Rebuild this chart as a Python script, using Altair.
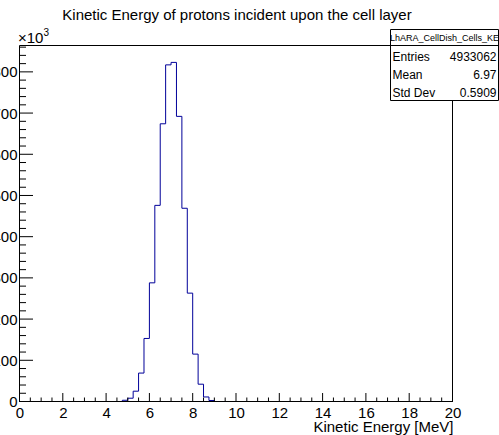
import altair as alt
import pandas as pd

# ---- data ----
bin_low = [4.75, 5.0, 5.25, 5.5, 5.75, 6.0, 6.25, 6.5, 6.75, 7.0,
           7.25, 7.5, 7.75, 8.0, 8.25, 8.5, 8.75]
counts = [3000, 8000, 25000, 69000, 153000, 288000, 476000, 674000, 817000, 823000,
          692000, 469000, 263000, 115000, 42000, 11000, 2500]
bin_width = 0.25
x_range = [0, 20]
y_max = 864000
x_label_values = [0, 2, 4, 6, 8, 10, 12, 14, 16, 18, 20]
y_label_values = [0, 100000, 200000, 300000, 400000, 500000, 600000, 700000, 800000]
stat_names = ["Entries", "Mean", "Std Dev"]
stat_values = ["4933062", "6.97", "0.5909"]
hist_name = "LhARA_CellDish_Cells_KE"
title_text = "Kinetic Energy of protons incident upon the cell layer"
x_title = "Kinetic Energy [MeV]"

W, H = 434, 357
FONT = "Liberation Sans"

# step outline (ROOT style histogram)
step_x = [x_range[0]] + bin_low + [bin_low[-1] + bin_width, x_range[1]]
step_y = [0] + counts + [0, 0]
step_df = pd.DataFrame({"x": step_x, "y": step_y})

xs = alt.Scale(domain=x_range, nice=False, zero=False, range=[0.5, W - 0.5])
ys = alt.Scale(domain=[0, y_max], nice=False, range=[H - 0.5, 0.5])

x_axis = alt.Axis(
    values=x_label_values, title=x_title, domain=False, ticks=False, tickSize=0,
    grid=False, labelFont=FONT, labelFontSize=15, labelColor="black",
    labelPadding=3, labelFlush=False,
    titleFont=FONT, titleFontSize=15, titleFontWeight="normal", titleColor="black",
    titleX=W, titleY=29, titleAlign="right", titleBaseline="alphabetic")
y_axis = alt.Axis(
    values=y_label_values, title=None, domain=False, ticks=False, tickSize=0,
    grid=False, labelFont=FONT, labelFontSize=15, labelColor="black",
    labelPadding=2, labelFlush=False,
    labelExpr="format(datum.value / 1000, 'd')")

X = alt.X("x:Q", scale=xs, axis=x_axis, title=x_title)
Y = alt.Y("y:Q", scale=ys, axis=y_axis, title=None)

x_major = list(x_label_values)
x_minor = [i * 0.5 for i in range(41) if i % 4 != 0]
y_major = [v for v in y_label_values if v > 0]
y_minor = [i * 20000 for i in range(1, int(y_max // 20000) + 1) if i % 5 != 0]

hist = alt.Chart(step_df).mark_line(
    interpolate="step-after", color="#000099", strokeWidth=1
).encode(x=X, y=Y)

y_major_ticks = alt.Chart(pd.DataFrame({"y": y_major})).mark_rule(
    color="black", strokeWidth=1).encode(y=Y, x=alt.value(0), x2=alt.value(14))
y_minor_ticks = alt.Chart(pd.DataFrame({"y": y_minor})).mark_rule(
    color="black", strokeWidth=1).encode(y=Y, x=alt.value(0), x2=alt.value(7))
x_major_ticks = alt.Chart(pd.DataFrame({"x": x_major})).mark_rule(
    color="black", strokeWidth=1).encode(x=X, y=alt.value(H), y2=alt.value(H - 9))
x_minor_ticks = alt.Chart(pd.DataFrame({"x": x_minor})).mark_rule(
    color="black", strokeWidth=1).encode(x=X, y=alt.value(H), y2=alt.value(H - 4.5))

one = alt.Data(values=[{"a": 1}])

frame = alt.Chart(one).mark_rect(filled=False, stroke="black", strokeWidth=1).encode(
    x=alt.value(0.5), x2=alt.value(W - 0.5), y=alt.value(0.5), y2=alt.value(H - 0.5))

title = alt.Chart(one).mark_text(
    font=FONT, fontSize=15, color="black", align="center", baseline="alphabetic"
).encode(x=alt.value(W / 2 + 1), y=alt.value(-25.3), text=alt.value(title_text))

exp_main = alt.Chart(one).mark_text(
    font=FONT, fontSize=15, color="black", align="left", baseline="alphabetic"
).encode(x=alt.value(-1), y=alt.value(-2.5), text=alt.value("×10"))
exp_sup = alt.Chart(one).mark_text(
    font=FONT, fontSize=10, color="black", align="left", baseline="alphabetic"
).encode(x=alt.value(24.5), y=alt.value(-9.5), text=alt.value("3"))

# stats box
box = alt.Chart(one).mark_rect(fill="white", stroke="black", strokeWidth=1).encode(
    x=alt.value(371.5), x2=alt.value(479.5), y=alt.value(-15.5), y2=alt.value(55.5))
box_sep = alt.Chart(one).mark_rule(color="black", strokeWidth=1).encode(
    x=alt.value(371.5), x2=alt.value(479.5), y=alt.value(0.5))
box_title = alt.Chart(one).mark_text(
    font=FONT, fontSize=9, color="black", align="center", baseline="alphabetic"
).encode(x=alt.value(425.5), y=alt.value(-4.5), text=alt.value(hist_name))

row_y = [15.5, 33.5, 51.5]
stat_layers = []
for name, val, ry in zip(stat_names, stat_values, row_y):
    stat_layers.append(alt.Chart(one).mark_text(
        font=FONT, fontSize=12, color="black", align="left", baseline="alphabetic"
    ).encode(x=alt.value(373.5), y=alt.value(ry), text=alt.value(name)))
    stat_layers.append(alt.Chart(one).mark_text(
        font=FONT, fontSize=12, color="black", align="right", baseline="alphabetic"
    ).encode(x=alt.value(477.5), y=alt.value(ry), text=alt.value(val)))

chart = alt.layer(
    hist, y_major_ticks, y_minor_ticks, x_major_ticks, x_minor_ticks,
    frame, title, exp_main, exp_sup, box, box_sep, box_title, *stat_layers
).properties(
    width=W, height=H,
    autosize=alt.AutoSizeParams(type="none"),
    padding={"left": 19, "top": 45, "right": 46, "bottom": 33},
    background="white",
).configure_view(stroke="transparent")

chart.save("out.html", embed_options={"renderer": "svg", "actions": False})
